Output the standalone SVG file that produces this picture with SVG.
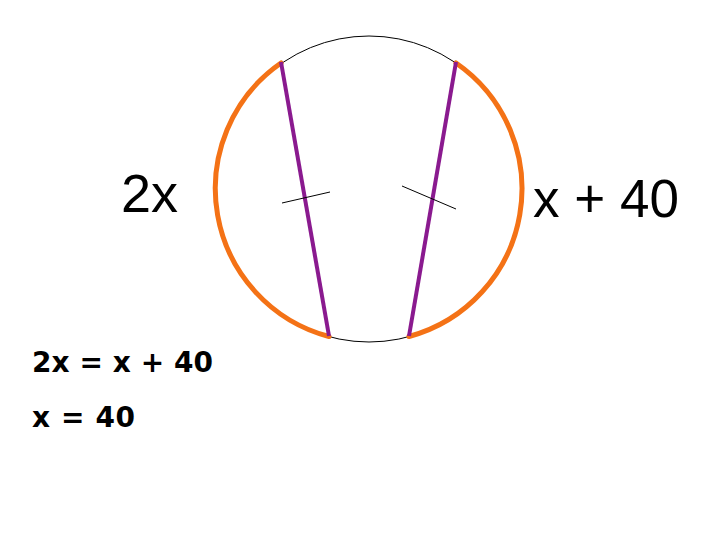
<svg xmlns="http://www.w3.org/2000/svg" width="720" height="540" viewBox="0 0 720 540">
<style>
.circ{fill:none;stroke:#000;stroke-width:1}
.arc{fill:none;stroke:#f47216;stroke-width:5;stroke-linecap:round}
.chord{stroke:#8a1a8f;stroke-width:4;stroke-linecap:butt}
.tick{stroke:#000;stroke-width:1}
.lbl{font-family:"Liberation Sans",Arial,sans-serif;fill:#000}
.eq{font-family:"DejaVu Sans","Liberation Sans",sans-serif;fill:#000;font-weight:bold}
</style>
<rect width="720" height="540" fill="#fff"/>
<g id="circle"><ellipse class="circ" cx="369" cy="189" rx="153" ry="153"/></g>
<g id="arcs">
<path class="arc" d="M281,63 A153,153 0 0 0 329,336.5"/>
<path class="arc" d="M456,63 A153,153 0 0 1 409,336.5"/>
</g>
<g id="connectors">
<line class="chord" x1="281" y1="62" x2="329" y2="336"/>
<line class="chord" x1="456" y1="62" x2="409" y2="336"/>
<line class="tick" x1="282" y1="203" x2="330" y2="192"/>
<line class="tick" x1="402" y1="186" x2="456" y2="209"/>
</g>
<g id="labels">
<text class="lbl" x="121" y="212" font-size="54">2x</text>
<text class="lbl" x="533" y="217" font-size="53">x + 40</text>
</g>
<g id="equations">
<text class="eq" x="32" y="372" font-size="28" textLength="181" lengthAdjust="spacing">2x = x + 40</text>
<text class="eq" x="32" y="427" font-size="28" textLength="103" lengthAdjust="spacing">x = 40</text>
</g>
</svg>
